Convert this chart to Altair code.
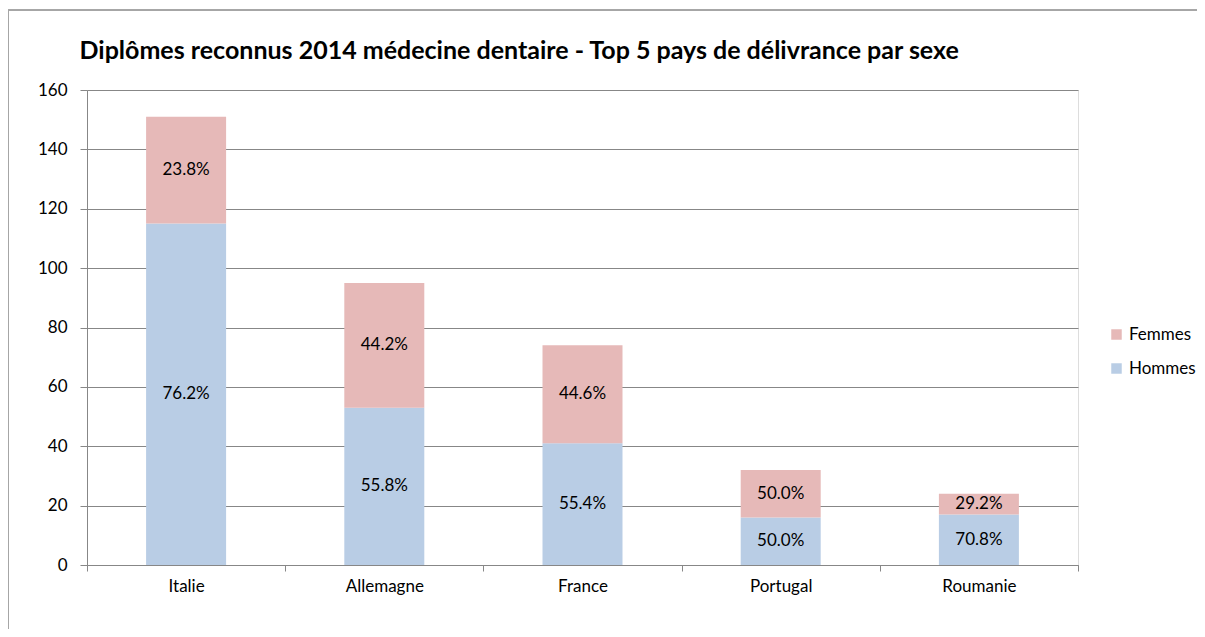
import altair as alt
import pandas as pd

countries = ["Italie", "Allemagne", "France", "Portugal", "Roumanie"]
hommes = [115, 53, 41, 16, 17]
femmes = [36, 42, 33, 16, 7]

rows = []
for c, h, f in zip(countries, hommes, femmes):
    rows.append({"pays": c, "sexe": "Hommes", "n": h, "ordre": 0, "total": h + f})
    rows.append({"pays": c, "sexe": "Femmes", "n": f, "ordre": 1, "total": h + f})
df = pd.DataFrame(rows)

FONT = "Lato"
GRID = "#878787"
FS = 17

x_enc = alt.X("pays:N", sort=countries, title=None,
              scale=alt.Scale(paddingInner=0, paddingOuter=0),
              axis=alt.Axis(labelAngle=0, tickBand="extent", tickSize=6,
                            tickColor=GRID, domainColor=GRID, labelPadding=7,
                            labelFontSize=FS, labelFont=FONT, labelColor="#000000",
                            grid=False))

base = alt.Chart(df).transform_calculate(
    pct="format(datum.n / datum.total * 100, '.1f') + '%'"
).transform_stack(
    stack="n", groupby=["pays"], as_=["y0", "y1"],
    sort=[alt.SortField("ordre", order="ascending")]
).transform_calculate(ymid="(datum.y0 + datum.y1) / 2")

bars = base.mark_bar(size=80).encode(
    x=x_enc,
    y=alt.Y("y0:Q", title=None,
            scale=alt.Scale(domain=[0, 160], nice=False),
            axis=alt.Axis(values=list(range(0, 161, 20)), tickSize=7, tickColor=GRID,
                          domainColor=GRID, gridColor=GRID, labelPadding=13,
                          labelFontSize=FS, labelFont=FONT, labelColor="#000000")),
    y2="y1:Q",
    color=alt.Color("sexe:N",
                    scale=alt.Scale(domain=["Femmes", "Hommes"], range=["#E6B9B8", "#B9CDE5"]),
                    legend=alt.Legend(title=None, orient="none", legendX=1021, legendY=236,
                                      symbolType="square", symbolSize=110, symbolStrokeWidth=0,
                                      labelFontSize=FS, labelFont=FONT, labelColor="#000000",
                                      rowPadding=16, labelOffset=4)),
)

labels = base.mark_text(fontSize=FS, font=FONT, color="#000000").encode(
    x=alt.X("pays:N", sort=countries),
    y=alt.Y("ymid:Q"),
    text="pct:N",
)

frame_left = alt.Chart(df).mark_rule(color="#A6A6A6", strokeWidth=1).encode(
    x=alt.value(-78.5), y=alt.value(-80), y2=alt.value(560))
frame_top = alt.Chart(df).mark_rule(color="#A6A6A6", strokeWidth=1).encode(
    x=alt.value(-78.5), x2=alt.value(1140), y=alt.value(-80))

chart = alt.layer(frame_left, frame_top, bars, labels).properties(
    width=991, height=475,
    padding={"left": 79, "top": 82, "right": 119, "bottom": 64},
    autosize=alt.AutoSizeParams(type="none"),
    title=alt.TitleParams(
        "Diplômes reconnus 2014 médecine dentaire - Top 5 pays de délivrance par sexe",
        anchor="start", dx=71.5, offset=-54, fontSize=25, font=FONT, fontWeight="bold",
        color="#000000"),
).configure_view(stroke=None).configure(background="#FFFFFF")

chart.save("out.html", embed_options={"renderer": "svg", "actions": False})
